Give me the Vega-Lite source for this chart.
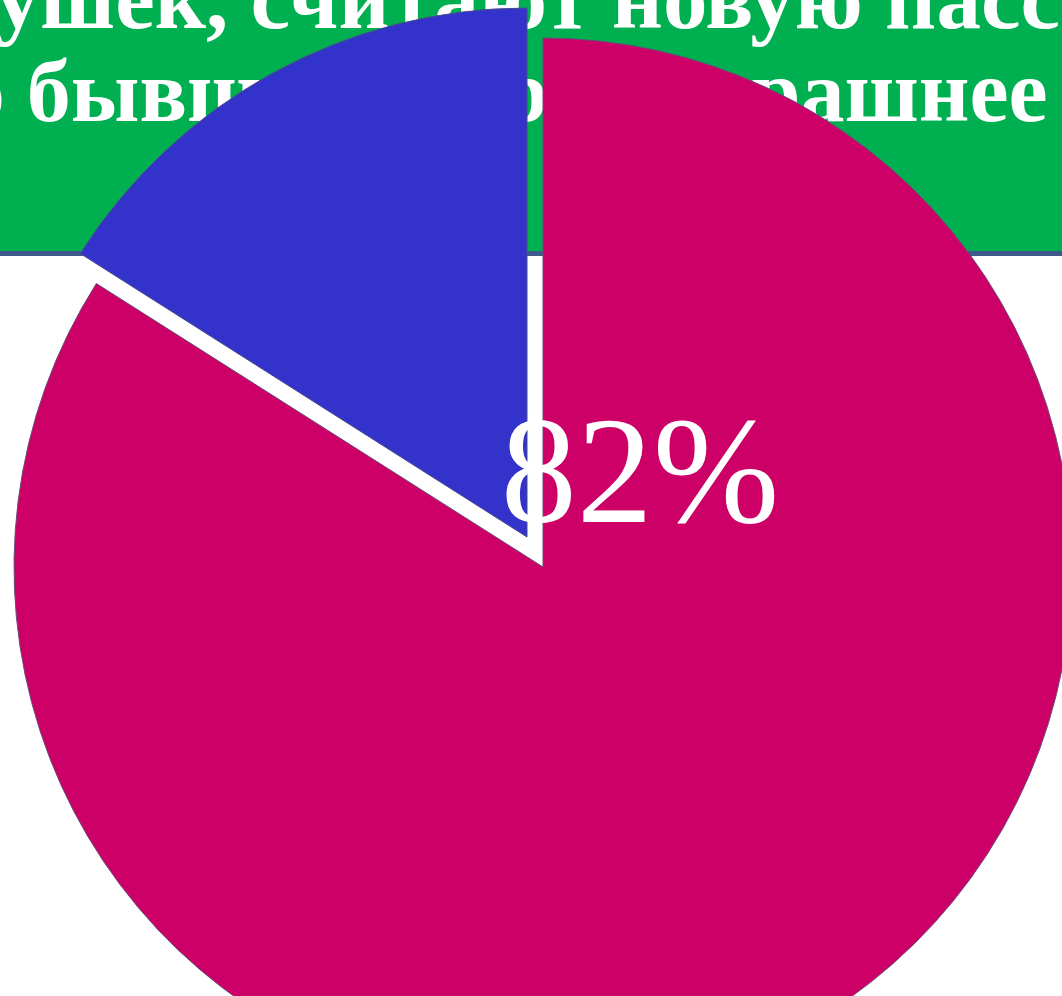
{
  "$schema": "https://vega.github.io/schema/vega-lite/v6.json",
  "width": 1038,
  "height": 858,
  "autosize": "none",
  "padding": {"left": 24, "top": 138, "right": 0, "bottom": 0},
  "background": "white",
  "view": {"stroke": null},
  "datasets": {
    "slices": [
      {"category": "Считают страшнее", "value": 84, "order": 1, "label": "82%"},
      {"category": "Другое", "value": 16, "order": 2, "label": ""}
    ],
    "header": [
      {"line": 1, "text": "девушек, считают новую пассию"},
      {"line": 2, "text": "своего бывшего парня страшнее себя"}
    ],
    "one": [{"k": 1}]
  },
  "layer": [
    {
      "data": {"name": "one"},
      "mark": {"type": "rect", "color": "#00AF50", "x": -24, "x2": 1038, "y": -138, "y2": 113},
      "encoding": {}
    },
    {
      "data": {"name": "one"},
      "mark": {"type": "rect", "color": "#3D5A8A", "x": -24, "x2": 1038, "y": 113, "y2": 118},
      "encoding": {}
    },
    {
      "data": {"name": "header"},
      "transform": [{"filter": "datum.line == 1"}],
      "mark": {"type": "text", "x": -158, "y": -110, "align": "left", "baseline": "alphabetic", "font": "Liberation Serif", "fontWeight": "bold", "fontSize": 89, "color": "white"},
      "encoding": {"text": {"field": "text"}}
    },
    {
      "data": {"name": "header"},
      "transform": [{"filter": "datum.line == 2"}],
      "mark": {"type": "text", "x": -270, "y": -17, "align": "left", "baseline": "alphabetic", "font": "Liberation Serif", "fontWeight": "bold", "fontSize": 88, "color": "white"},
      "encoding": {"text": {"field": "text"}}
    },
    {
      "data": {"name": "slices"},
      "transform": [
        {"stack": "value", "groupby": [], "sort": [{"field": "order"}], "as": ["v0", "v1"]},
        {"filter": "datum.order == 1"}
      ],
      "mark": {"type": "arc", "radius": 529, "color": "#CC0066", "stroke": "#6a4a7a", "strokeWidth": 1},
      "encoding": {
        "theta": {"field": "v0", "type": "quantitative", "stack": null, "scale": {"domain": [0, 100]}},
        "theta2": {"field": "v1"}
      }
    },
    {
      "data": {"name": "slices"},
      "transform": [
        {"stack": "value", "groupby": [], "sort": [{"field": "order"}], "as": ["v0", "v1"]},
        {"filter": "datum.order == 2"}
      ],
      "mark": {"type": "arc", "radius": 529, "color": "#3333CC", "stroke": "#4a4a8a", "strokeWidth": 1, "x": {"expr": "width/2 - 16"}, "y": {"expr": "height/2 - 30"}},
      "encoding": {
        "theta": {"field": "v0", "type": "quantitative", "stack": null, "scale": {"domain": [0, 100]}},
        "theta2": {"field": "v1"}
      }
    },
    {
      "data": {"name": "slices"},
      "transform": [{"filter": "datum.order == 1"}],
      "mark": {"type": "text", "x": 616, "y": 384, "align": "center", "baseline": "alphabetic", "font": "Liberation Serif", "fontSize": 152, "color": "white"},
      "encoding": {"text": {"field": "label"}}
    }
  ]
}
